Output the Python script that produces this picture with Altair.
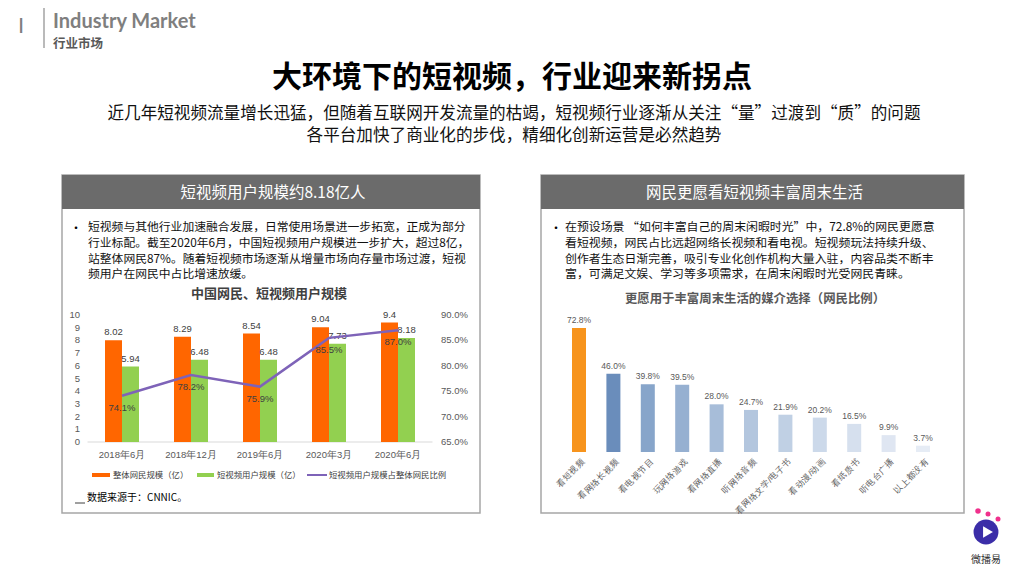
import altair as alt
import pandas as pd

# ---------------- data ----------------
left_cats = ["2018年6月", "2018年12月", "2019年6月", "2020年3月", "2020年6月"]
netizens = [8.02, 8.29, 8.54, 9.04, 9.4]          # 整体网民规模（亿）
short_users = [5.94, 6.48, 6.48, 7.73, 8.18]      # 短视频用户规模（亿）
share_pct = [74.1, 78.2, 75.9, 85.5, 87.0]        # 占比 %
left_ticks = [0, 1, 2, 3, 4, 5, 6, 7, 8, 9, 10]
right_ticks = [65, 70, 75, 80, 85, 90]

media = ["看短视频", "看网络长视频", "看电视节目", "玩网络游戏", "看网络直播", "听网络音频",
         "看网络文学/电子书", "看动漫/动画", "看纸质书", "听电台广播", "以上都没有"]
media_pct = [72.8, 46.0, 39.8, 39.5, 28.0, 24.7, 21.9, 20.2, 16.5, 9.9, 3.7]
media_colors = ["#F7941D", "#6A8DBB", "#87A5CA", "#96B0D1", "#A7BDD9", "#B3C6DE",
                "#C0D0E4", "#CCD9EA", "#D6E0EE", "#DFE6F2", "#E6ECF5"]

head_en = "Industry Market"
head_cn = "行业市场"
main_title = "大环境下的短视频，行业迎来新拐点"
subtitle_lines = ["近几年短视频流量增长迅猛，但随着互联网开发流量的枯竭，短视频行业逐渐从关注“量”过渡到“质”的问题",
                  "各平台加快了商业化的步伐，精细化创新运营是必然趋势"]
left_header = "短视频用户规模约8.18亿人"
right_header = "网民更愿看短视频丰富周末生活"
left_bullet = ["短视频与其他行业加速融合发展，日常使用场景进一步拓宽，正成为部分",
               "行业标配。截至2020年6月，中国短视频用户规模进一步扩大，超过8亿，",
               "站整体网民87%。随着短视频市场逐渐从增量市场向存量市场过渡，短视",
               "频用户在网民中占比增速放缓。"]
right_bullet = ["在预设场景 “如何丰富自己的周末闲暇时光”中，72.8%的网民更愿意",
                "看短视频，网民占比远超网络长视频和看电视。短视频玩法持续升级、",
                "创作者生态日渐完善，吸引专业化创作机构大量入驻，内容品类不断丰",
                "富，可满足文娱、学习等多项需求，在周末闲暇时光受网民青睐。"]
left_chart_title = "中国网民、短视频用户规模"
right_chart_title = "更愿用于丰富周末生活的媒介选择（网民比例）"
legend_names = ["整体网民规模（亿）", "短视频用户规模（亿）", "短视频用户规模占整体网民比例"]
source_text = "数据来源于：CNNIC。"
logo_text = "微播易"

FONT = "Noto Sans CJK SC"
ONE = pd.DataFrame({"k": [0]})

ldf = pd.DataFrame({"cat": left_cats, "total": netizens, "short": short_users,
                    "share": share_pct, "idx": list(range(len(left_cats)))})
rdf = pd.DataFrame({"m": media, "p": media_pct})
lt = pd.DataFrame({"v": left_ticks})
rt = pd.DataFrame({"v": right_ticks})


def txt(s, x, y, size=12, color="#000000", weight="normal", align="left",
        baseline="middle", font=FONT, line_height=None):
    kw = dict(text=s, fontSize=size, color=color, fontWeight=weight, align=align,
              baseline=baseline, font=font)
    if line_height is not None:
        kw["lineHeight"] = line_height
    return alt.Chart(ONE).mark_text(**kw).encode(x=alt.value(x), y=alt.value(y))


def box(x1, x2, y1, y2, fill="transparent", stroke=None, sw=1.0):
    kw = dict(fill=fill)
    if stroke is not None:
        kw["stroke"] = stroke
        kw["strokeWidth"] = sw
    return alt.Chart(ONE).mark_rect(**kw).encode(
        x=alt.value(x1), x2=alt.value(x2), y=alt.value(y1), y2=alt.value(y2))


def hline(x1, x2, y, color, sw):
    return alt.Chart(ONE).mark_rule(color=color, strokeWidth=sw).encode(
        x=alt.value(x1), x2=alt.value(x2), y=alt.value(y))


layers = []

# ---------------- header ----------------
layers.append(alt.Chart(ONE).mark_rule(color="#8c8c8c", strokeWidth=1.2).encode(
    x=alt.value(36), y=alt.value(0), y2=alt.value(40)))
layers.append(txt("I", 13, 18, size=22, color="#7f7f7f", weight="normal", align="center", font="Lato"))
layers.append(txt(head_en, 45, 14, size=20, color="#7f7f7f", weight="bold", font="Lato"))
layers.append(txt(head_cn, 45, 36, size=12.5, color="#595959", weight="bold"))
layers.append(txt(main_title, 504, 70, size=30, color="#000000", weight="bold", align="center"))
layers.append(txt(subtitle_lines[0], 506, 106, size=16.6, color="#111111", align="center"))
layers.append(txt(subtitle_lines[1], 506, 128, size=16.6, color="#111111", align="center"))

# ---------------- boxes ----------------
for (x1, x2, head) in [(54, 472, left_header), (533, 956, right_header)]:
    layers.append(box(x1, x2, 167, 505, fill="#ffffff", stroke="#a6a6a6", sw=1.5))
    layers.append(box(x1, x2, 167, 201, fill="#6b6b6b"))
    layers.append(txt(head, (x1 + x2) / 2 + 2, 184.5, size=15.5, color="#ffffff", align="center"))

layers.append(txt("•", 68, 221, size=12, color="#000000", align="center"))
layers.append(txt(left_bullet, 80, 214, size=11.8, color="#111111", baseline="top", line_height=15.8))
layers.append(txt("•", 548, 221, size=12, color="#000000", align="center"))
layers.append(txt(right_bullet, 557, 214, size=11.9, color="#111111", baseline="top", line_height=15.8))

# ---------------- left chart ----------------
X_L = alt.X("cat:N", scale=alt.Scale(type="point", domain=left_cats, range=[79.5, 424.5], padding=0.5), axis=None)
Y_BAR = alt.Scale(domain=[0, 10], range=[434, 307], nice=False)
Y_PCT = alt.Scale(domain=[65, 90], range=[434, 307], nice=False, zero=False)

layers.append(txt(left_chart_title, 261, 286, size=13, color="#404040", weight="bold", align="center"))
layers.append(hline(79.5, 424.5, 434, "#d9d9d9", 1))

base_l = alt.Chart(ldf)
layers.append(base_l.mark_bar(width=17, xOffset=-8.5, color="#FF6600").encode(
    x=X_L, y=alt.Y("total:Q", scale=Y_BAR, axis=None)))
layers.append(base_l.mark_bar(width=17, xOffset=8.5, color="#92D050").encode(
    x=X_L, y=alt.Y("short:Q", scale=Y_BAR, axis=None)))
layers.append(base_l.mark_text(xOffset=-8.5, dy=-8, fontSize=9.5, color="#404040", font="Liberation Sans").encode(
    x=X_L, y=alt.Y("total:Q", scale=Y_BAR, axis=None), text="total:N"))
layers.append(base_l.mark_text(xOffset=8.5, dy=-8, fontSize=9.5, color="#404040", font="Liberation Sans").encode(
    x=X_L, y=alt.Y("short:Q", scale=Y_BAR, axis=None), text="short:N"))
layers.append(base_l.mark_line(color="#7E63B8", strokeWidth=2.5).encode(
    x=X_L, y=alt.Y("share:Q", scale=Y_PCT, axis=None), order="idx:Q"))
layers.append(base_l.transform_calculate(lab="format(datum.share, '.1f') + '%'").mark_text(
    dy=12, fontSize=9.5, color="#404040", font="Liberation Sans").encode(
    x=X_L, y=alt.Y("share:Q", scale=Y_PCT, axis=None), text="lab:N"))
# axis labels
layers.append(alt.Chart(lt).mark_text(align="right", fontSize=9.5, color="#595959", font="Liberation Sans").encode(
    x=alt.value(72), y=alt.Y("v:Q", scale=Y_BAR, axis=None), text="v:N"))
layers.append(alt.Chart(rt).transform_calculate(lab="format(datum.v, '.1f') + '%'").mark_text(
    align="left", fontSize=9.5, color="#595959", font="Liberation Sans").encode(
    x=alt.value(433), y=alt.Y("v:Q", scale=Y_PCT, axis=None), text="lab:N"))
layers.append(base_l.mark_text(fontSize=9.5, color="#595959", baseline="middle").encode(
    x=X_L, y=alt.value(447), text="cat:N"))

# legend
leg_y = 467
layers.append(hline(84, 102, leg_y, "#FF6600", 4))
layers.append(txt(legend_names[0], 105, leg_y, size=8.4, color="#404040"))
layers.append(hline(189, 206, leg_y, "#92D050", 4))
layers.append(txt(legend_names[1], 209, leg_y, size=8.4, color="#404040"))
layers.append(hline(299, 319, leg_y, "#7E63B8", 2))
layers.append(txt(legend_names[2], 321, leg_y, size=8.4, color="#404040"))
layers.append(hline(67, 77, 495, "#404040", 1))
layers.append(txt(source_text, 79, 490, size=10, color="#000000"))

# ---------------- right chart ----------------
X_R = alt.X("m:N", scale=alt.Scale(type="point", domain=media, range=[553.8, 932.2], padding=0.5), axis=None)
Y_R = alt.Scale(domain=[0, 100], range=[444, 273.7], nice=False)

layers.append(txt(right_chart_title, 747, 291, size=12.4, color="#595959", weight="bold", align="center"))
base_r = alt.Chart(rdf)
layers.append(base_r.mark_bar(width=14).encode(
    x=X_R, y=alt.Y("p:Q", scale=Y_R, axis=None),
    color=alt.Color("m:N", scale=alt.Scale(domain=media, range=media_colors), legend=None)))
layers.append(base_r.transform_calculate(lab="format(datum.p, '.1f') + '%'").mark_text(
    dy=-8, fontSize=8.5, color="#595959", font="Liberation Sans").encode(
    x=X_R, y=alt.Y("p:Q", scale=Y_R, axis=None), text="lab:N"))
layers.append(base_r.mark_text(angle=315, align="right", baseline="middle", fontSize=8.5,
                               color="#595959", xOffset=4).encode(
    x=X_R, y=alt.value(452), text="m:N"))

# ---------------- logo ----------------
layers.append(alt.Chart(ONE).mark_point(shape="circle", filled=True, size=620, color="#3B2DA8", opacity=1).encode(
    x=alt.value(978), y=alt.value(524)))
layers.append(alt.Chart(ONE).mark_point(shape="triangle-right", filled=True, size=130, color="#ffffff", opacity=1).encode(
    x=alt.value(980), y=alt.value(524)))
layers.append(alt.Chart(ONE).mark_point(shape="circle", filled=True, size=30, color="#F0308C", opacity=1).encode(
    x=alt.value(970), y=alt.value(503)))
layers.append(alt.Chart(ONE).mark_point(shape="circle", filled=True, size=25, color="#F0308C", opacity=1).encode(
    x=alt.value(980), y=alt.value(506)))
layers.append(alt.Chart(ONE).mark_point(shape="circle", filled=True, size=25, color="#F0308C", opacity=1).encode(
    x=alt.value(990), y=alt.value(511)))
layers.append(txt(logo_text, 978, 552, size=10, color="#333333", align="center"))

chart = alt.layer(*layers).resolve_scale(
    x="independent", y="independent", color="independent"
).properties(
    width=1008, height=560, padding=0,
    autosize=alt.AutoSizeParams(type="none"),
    background="#ffffff",
).configure_view(stroke="transparent")

chart.save("out.html", embed_options={"renderer": "svg", "actions": False})
